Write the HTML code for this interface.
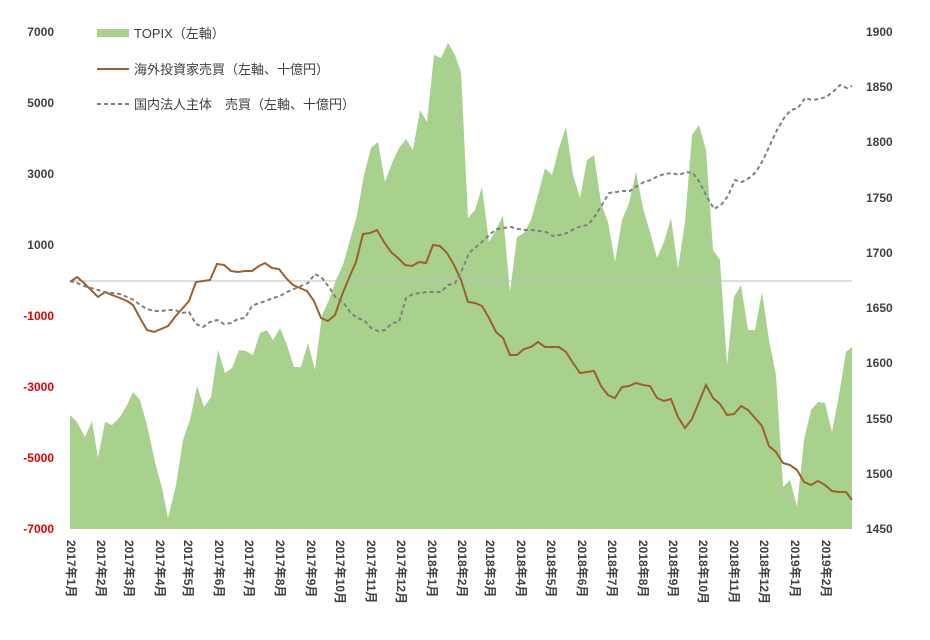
<!DOCTYPE html>
<html><head><meta charset="utf-8"><style>
body{margin:0;background:#fff;width:930px;height:635px;overflow:hidden;font-family:"Liberation Sans","Noto Sans CJK JP",sans-serif}
</style></head><body>
<svg width="930" height="635" xmlns="http://www.w3.org/2000/svg" font-family="Liberation Sans, Noto Sans CJK JP, sans-serif">
<polygon fill="#a9d18e" points="70,529 70,415 77,422 85,437 92,421 98,458 105,422 112,425 120,417 127,405 133,392 140,400 147,425 155,462 162,488 168,518 176,485 183,440 190,420 197,386 204,407 211,397 218,350 225,373 232,368 239,350 246,351 253,355 260,333 267,330 273,340 280,328 287,345 294,367 301,367 308,343 315,370 322,315 329,300 336,280 343,265 350,240 357,215 364,175 371,148 378,142 385,182 392,163 399,148 406,139 413,150 420,110 427,122 434,55 441,58 448,43 455,55 461,72 468,218 475,210 482,187 489,242 496,230 503,215 510,292 517,237 524,233 531,220 538,195 545,168 552,175 559,148 566,127 573,175 580,198 587,160 594,155 601,203 608,222 615,262 622,220 629,203 636,172 643,208 650,232 657,258 664,242 671,218 678,269 685,222 692,135 699,125 706,150 713,250 720,260 727,365 734,297 741,285 748,330 755,330 762,292 769,340 776,375 783,487 790,480 797,507 804,440 811,410 818,402 825,403 832,432 839,395 846,352 852,347 852,529"/>
<line x1="70" y1="281" x2="852" y2="281" stroke="#bfbfbf" stroke-width="1"/>
<polyline fill="none" stroke="#9e5f2c" stroke-width="2" points="70,282 77,277 84,283 91,290 98,297 105,292 112,295 120,298 127,301 133,305 140,318 147,330 154,332 161,329 168,326 175,317 182,309 189,301 196,282 203,281 210,280 217,264 224,265 231,271 238,272 245,271 252,271 259,266 265,263 272,268 279,269 286,278 293,285 300,288 307,291 314,301 321,318 328,321 335,315 342,295 349,278 356,262 363,234 370,233 377,230 384,242 391,252 398,258 405,265 412,266 419,262 426,263 433,245 440,246 447,253 454,265 461,280 468,302 475,303 482,306 489,318 496,332 503,338 510,355 517,355 524,349 531,347 538,342 545,347 552,347 559,347 566,352 573,363 580,373 587,372 594,371 601,386 608,395 615,398 622,387 629,386 636,383 643,385 650,386 657,398 664,401 671,399 678,417 685,428 692,419 699,402 706,385 713,398 720,404 727,415 734,414 741,406 748,410 755,418 762,426 769,446 776,452 783,463 790,465 797,470 804,482 811,485 818,481 825,485 832,491 839,492 846,492 852,500"/>
<polyline fill="none" stroke="#7f7f7f" stroke-width="2" stroke-dasharray="4,3" points="70,281 77,283 84,286 91,288 98,290 105,292 112,293 120,294 127,297 134,300 140,305 147,309 154,311 161,311 168,310 175,310 182,313 189,312 196,324 203,327 210,322 217,320 224,324 231,323 238,319 245,318 252,306 259,303 266,301 273,298 280,296 287,292 294,289 301,286 308,283 315,274 322,278 329,287 336,298 343,302 350,312 357,318 364,320 371,328 378,331 385,330 392,323 399,322 406,298 413,294 420,293 427,292 434,292 441,292 448,285 455,283 462,270 469,253 476,247 483,241 490,234 497,229 504,228 511,227 518,229 525,230 532,230 539,231 546,232 553,236 560,235 567,233 574,229 581,226 588,225 595,216 602,205 609,193 616,192 623,191 630,191 637,186 644,182 651,180 658,176 665,174 672,173 679,175 686,172 693,173 700,183 707,197 714,209 721,205 728,196 735,180 742,182 749,178 756,172 763,160 770,145 777,130 784,118 791,110 798,108 805,98 812,100 819,99 826,97 833,92 840,85 847,88 852,86"/>
<g font-size="12" font-weight="bold" text-anchor="end" fill="#404040">
<text x="54" y="36">7000</text><text x="54" y="107">5000</text><text x="54" y="178">3000</text><text x="54" y="249">1000</text>
<text x="54" y="320" fill="#e00000">-1000</text><text x="54" y="391" fill="#e00000">-3000</text><text x="54" y="462" fill="#e00000">-5000</text><text x="54" y="533" fill="#e00000">-7000</text>
</g>
<g font-size="12" font-weight="bold" fill="#404040">
<text x="866" y="36">1900</text><text x="866" y="91">1850</text><text x="866" y="146">1800</text><text x="866" y="202">1750</text><text x="866" y="257">1700</text><text x="866" y="312">1650</text><text x="866" y="367">1600</text><text x="866" y="423">1550</text><text x="866" y="478">1500</text><text x="866" y="533">1450</text>
</g>
<rect x="97" y="29" width="32" height="8" fill="#a9d18e"/>
<text x="134" y="38" font-size="13" fill="#404040">TOPIX（左軸）</text>
<line x1="97" y1="69" x2="129" y2="69" stroke="#9e5f2c" stroke-width="2"/>
<text x="134" y="74" font-size="13" fill="#404040">海外投資家売買（左軸、十億円）</text>
<line x1="97" y1="104" x2="129" y2="104" stroke="#7f7f7f" stroke-width="2" stroke-dasharray="4,3"/>
<text x="134" y="109" font-size="13" fill="#404040">国内法人主体　売買（左軸、十億円）</text>
<g font-size="12" font-weight="bold" fill="#404040">
<text transform="translate(67,540) rotate(90)">2017年1月</text>
<text transform="translate(97,540) rotate(90)">2017年2月</text>
<text transform="translate(125,540) rotate(90)">2017年3月</text>
<text transform="translate(156,540) rotate(90)">2017年4月</text>
<text transform="translate(184,540) rotate(90)">2017年5月</text>
<text transform="translate(215,540) rotate(90)">2017年6月</text>
<text transform="translate(245,540) rotate(90)">2017年7月</text>
<text transform="translate(276,540) rotate(90)">2017年8月</text>
<text transform="translate(307,540) rotate(90)">2017年9月</text>
<text transform="translate(336,540) rotate(90)">2017年10月</text>
<text transform="translate(367,540) rotate(90)">2017年11月</text>
<text transform="translate(397,540) rotate(90)">2017年12月</text>
<text transform="translate(428,540) rotate(90)">2018年1月</text>
<text transform="translate(458,540) rotate(90)">2018年2月</text>
<text transform="translate(486,540) rotate(90)">2018年3月</text>
<text transform="translate(517,540) rotate(90)">2018年4月</text>
<text transform="translate(547,540) rotate(90)">2018年5月</text>
<text transform="translate(578,540) rotate(90)">2018年6月</text>
<text transform="translate(608,540) rotate(90)">2018年7月</text>
<text transform="translate(639,540) rotate(90)">2018年8月</text>
<text transform="translate(669,540) rotate(90)">2018年9月</text>
<text transform="translate(699,540) rotate(90)">2018年10月</text>
<text transform="translate(730,540) rotate(90)">2018年11月</text>
<text transform="translate(760,540) rotate(90)">2018年12月</text>
<text transform="translate(791,540) rotate(90)">2019年1月</text>
<text transform="translate(822,540) rotate(90)">2019年2月</text>
</g>
</svg>
</body></html>
